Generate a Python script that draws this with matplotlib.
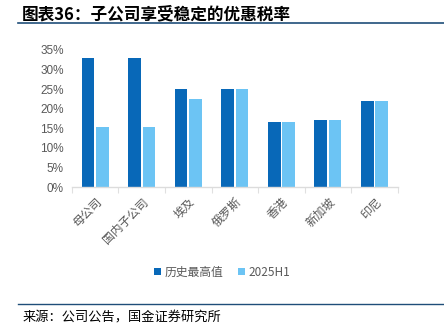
import matplotlib
matplotlib.use("Agg")
import matplotlib.pyplot as plt
import numpy as np
from matplotlib.lines import Line2D

plt.rcParams['font.family'] = ['Noto Sans CJK SC', 'DejaVu Sans']

categories = ["母公司", "国内子公司", "埃及", "俄罗斯", "香港", "新加坡", "印尼"]
hist_max = [33, 33, 25, 25, 16.5, 17, 22]
h1_2025 = [15.3, 15.3, 22.5, 25, 16.5, 17, 22]
series_names = ["历史最高值", "2025H1"]
yticks = [0, 5, 10, 15, 20, 25, 30, 35]

dark = "#0868B8"
light = "#6CC4F4"
gray = "#595959"

fig = plt.figure(figsize=(4.44, 3.26), dpi=100)
ax = fig.add_axes([0.162, 0.426, 0.734, 0.421])

x = np.arange(len(categories))
w = 0.27
ax.bar(x - w/2 - 0.02, hist_max, width=w, color=dark, label=series_names[0])
ax.bar(x + w/2 + 0.02, h1_2025, width=w, color=light, label=series_names[1])

ax.set_xlim(-0.5, len(categories) - 0.5)
ax.set_ylim(0, 35)
ax.set_yticks(yticks)
ax.set_yticklabels([f"{v}%" for v in yticks], color=gray, fontsize=8.5, family=['Liberation Sans', 'DejaVu Sans'])
ax.tick_params(axis='y', length=0, pad=6)

ax.set_xticks(x)
ax.set_xticklabels(categories, rotation=45, ha='right', rotation_mode='anchor', color=gray, fontsize=8.5)
ax.tick_params(axis='x', length=0, pad=6)
ax.set_xticks(np.arange(-0.5, len(categories)), minor=True)
ax.tick_params(axis='x', which='minor', length=4, color='#e0e0e0', width=0.8)

for s in ['top', 'right', 'left']:
    ax.spines[s].set_visible(False)
ax.spines['bottom'].set_color('#dcdcdc')
ax.spines['bottom'].set_linewidth(1.0)

leg = fig.legend(loc='center', bbox_to_anchor=(0.5, 0.165), ncol=2, frameon=False,
                 fontsize=8.5, handlelength=0.6, handleheight=0.6, handletextpad=0.3,
                 columnspacing=1.2)
for t in leg.get_texts():
    t.set_color(gray)

fig.text(0.05, 0.985, "图表36：子公司享受稳定的优惠税率", fontsize=12, fontweight='bold',
         style='italic', ha='left', va='top', color='black')
fig.add_artist(Line2D([0.04, 1.0], [0.929, 0.929], transform=fig.transFigure, color='#1f4e79', lw=1.2))
fig.add_artist(Line2D([0.04, 1.0], [0.067, 0.067], transform=fig.transFigure, color='#1f4e79', lw=1.0))
fig.text(0.05, 0.025, "来源：公司公告，国金证券研究所", fontsize=9.5, ha='left', va='center', color='black')

fig.savefig("out.png", dpi=100)
